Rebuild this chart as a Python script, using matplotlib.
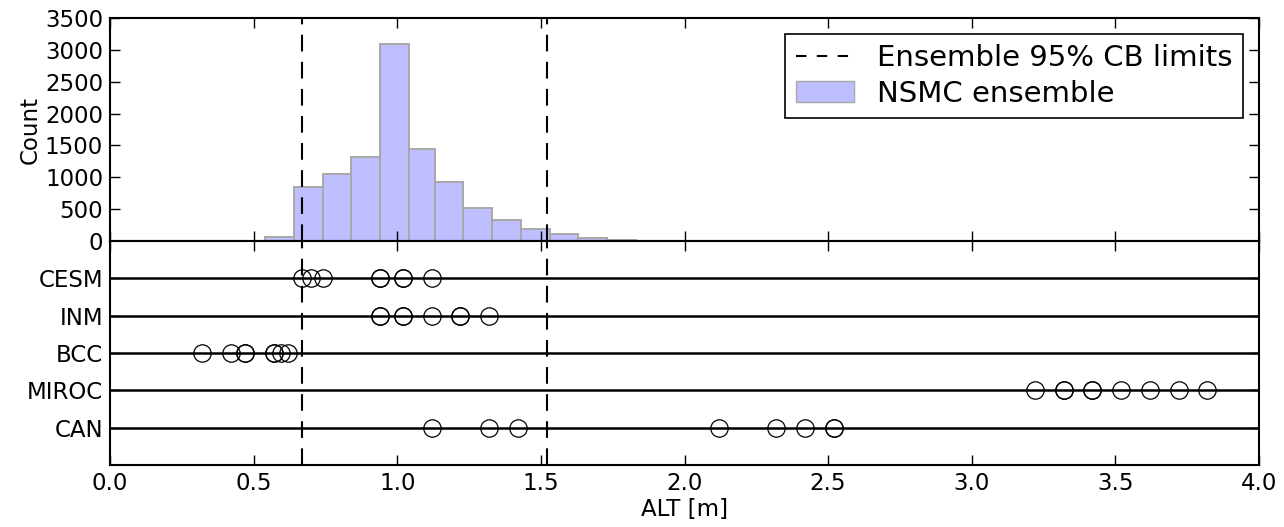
import matplotlib
matplotlib.use("Agg")
import matplotlib.pyplot as plt
import numpy as np
from matplotlib.lines import Line2D
from matplotlib.patches import Patch

# histogram of the NSMC ensemble (bin edges and counts)
bin_edges = [0.54, 0.64, 0.74, 0.84, 0.94, 1.04, 1.13, 1.23, 1.33, 1.43, 1.53, 1.63, 1.73, 1.83]
counts = [68, 855, 1054, 1322, 3089, 1437, 923, 524, 336, 189, 115, 52, 15]

cb_limits = [0.67, 1.52]

models = ["CESM", "INM", "BCC", "MIROC", "CAN"]
model_alt = {
    "CESM": [0.67, 0.70, 0.74, 0.94, 0.94, 1.02, 1.02, 1.12],
    "INM": [0.94, 0.94, 1.02, 1.02, 1.12, 1.22, 1.22, 1.32],
    "BCC": [0.32, 0.42, 0.47, 0.47, 0.57, 0.57, 0.595, 0.62],
    "MIROC": [3.22, 3.32, 3.32, 3.42, 3.42, 3.52, 3.62, 3.72, 3.82],
    "CAN": [1.12, 1.32, 1.42, 2.12, 2.32, 2.42, 2.52, 2.52],
}

FS = 16.5
DASH = (0, (8, 5))

plt.rcParams["font.family"] = "DejaVu Sans"
fig = plt.figure(figsize=(12.84, 5.27), dpi=100)
ax1 = fig.add_axes([0.0857, 0.5427, 0.8948, 0.4231])
ax2 = fig.add_axes([0.0857, 0.1176, 0.8948, 0.4251], sharex=ax1)

edges = np.array(bin_edges)
ax1.bar(edges[:-1], counts, width=np.diff(edges), align="edge",
        facecolor="#bfbfff", edgecolor="#a8a8a8", linewidth=1.4)
for x in cb_limits:
    ax1.axvline(x, color="k", ls=DASH, lw=1.5)
    ax2.axvline(x, color="k", ls=DASH, lw=1.5)
ax1.set_ylim(0, 3500)
ax1.set_yticks(np.arange(0, 3501, 500))
ax1.set_ylabel("Count", fontsize=FS, labelpad=2)
ax1.tick_params(labelbottom=False)

handles = [
    Line2D([0], [0], color="k", ls=(0, (5, 5)), lw=1.5),
    Patch(facecolor="#bfbfff", edgecolor="#a8a8a8"),
]
leg = ax1.legend(handles, ["Ensemble 95% CB limits", "NSMC ensemble"],
                 loc="upper right", fontsize=21, fancybox=False, framealpha=1,
                 borderaxespad=0.55, handlelength=2.0, labelspacing=0.25,
                 borderpad=0.35)
leg.get_frame().set_edgecolor("k")
leg.get_frame().set_linewidth(1.2)

for i, m in enumerate(models):
    yrow = len(models) - i
    ax2.axhline(yrow, color="k", lw=1.8, zorder=1)
    vals = model_alt[m]
    ax2.plot(vals, [yrow] * len(vals), "o", ms=12.5, mfc="none", mec="k",
             mew=0.9, zorder=3)
ax2.set_ylim(0, 6)
ax2.set_yticks(range(len(models), 0, -1))
ax2.set_yticklabels(models)
ax2.set_xlim(0, 4)
ax2.set_xticks(np.arange(0, 4.01, 0.5))
ax2.set_xlabel("ALT [m]", fontsize=FS, labelpad=2)

for ax in (ax1, ax2):
    ax.tick_params(direction="in", top=True, right=True, labelsize=FS,
                   length=7, width=1, pad=5)
    for s in ax.spines.values():
        s.set_linewidth(1.5)

fig.savefig("out.png", dpi=100)
